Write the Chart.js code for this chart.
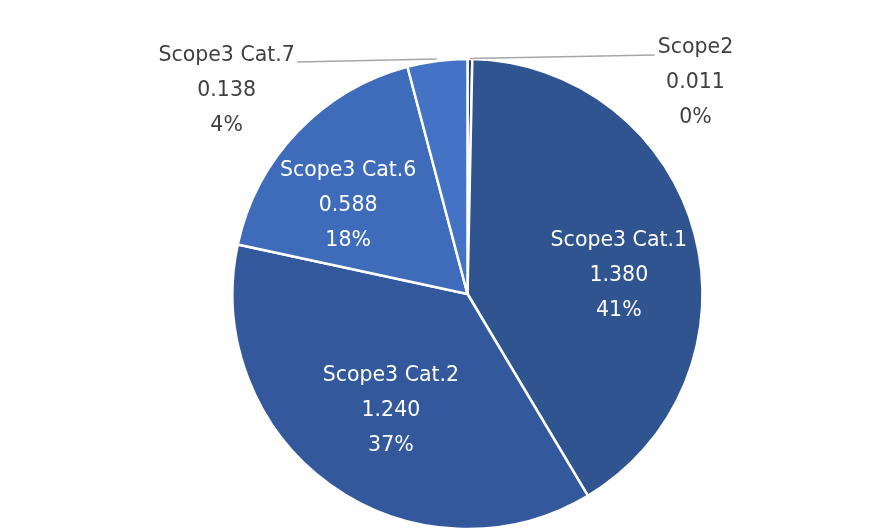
<!DOCTYPE html>
<html>
<head>
<meta charset="utf-8">
<script src="https://cdn.jsdelivr.net/npm/chart.js@4"></script>
<style>
html,body{margin:0;padding:0;background:#fff;}
#wrap{width:880px;height:532px;position:relative;}
</style>
</head>
<body>
<div id="wrap"><canvas id="c" width="880" height="532"></canvas></div>
<script>
const categories = ["Scope2", "Scope3 Cat.1", "Scope3 Cat.2", "Scope3 Cat.6", "Scope3 Cat.7"];
const values = [0.011, 1.380, 1.240, 0.588, 0.138];
const colors = ["#243F70", "#30548F", "#33599C", "#3F6CBA", "#4472C4"];

// label placement (relative to radius) and style, per slice
const labelPos = [
  {dx: 0.970, dy: -0.898, inside: false, leader: [[0.01, -1.002], [0.797, -1.017]]},
  {dx: 0.644, dy: -0.078, inside: true},
  {dx: -0.326, dy: 0.495, inside: true},
  {dx: -0.508, dy: -0.374, inside: true},
  {dx: -1.025, dy: -0.866, inside: false, leader: [[-0.131, -1.000], [-0.725, -0.987]]}
];

const total = values.reduce((a, b) => a + b, 0);

const labelPlugin = {
  id: 'pieLabels',
  afterDatasetsDraw(chart) {
    const ctx = chart.ctx;
    const meta = chart.getDatasetMeta(0);
    const arc0 = meta.data[0];
    const cx = arc0.x, cy = arc0.y, R = arc0.outerRadius;
    ctx.save();
    meta.data.forEach((arc, i) => {
      const p = labelPos[i];
      if (p.leader) {
        ctx.strokeStyle = '#A6A6A6';
        ctx.lineWidth = 1.5;
        ctx.beginPath();
        ctx.moveTo(cx + p.leader[0][0] * R, cy + p.leader[0][1] * R);
        ctx.lineTo(cx + p.leader[1][0] * R, cy + p.leader[1][1] * R);
        ctx.stroke();
      }
      const x = cx + p.dx * R, y = cy + p.dy * R;
      const pct = Math.round(values[i] / total * 100) + '%';
      const lines = [categories[i], values[i].toFixed(3), pct];
      ctx.fillStyle = p.inside ? '#FFFFFF' : '#404040';
      ctx.font = '20.5px "DejaVu Sans"';
      ctx.textAlign = 'center';
      ctx.textBaseline = 'middle';
      const lh = 35;
      lines.forEach((t, k) => ctx.fillText(t, x, y + (k - 1) * lh));
    });
    ctx.restore();
  }
};

new Chart(document.getElementById('c'), {
  type: 'pie',
  data: {
    labels: categories,
    datasets: [{
      data: values,
      backgroundColor: colors,
      borderColor: '#FFFFFF',
      borderWidth: 2.5,
      hoverOffset: 0
    }]
  },
  options: {
    responsive: false,
    animation: false,
    layout: {padding: {top: 56.75, bottom: 0.75, left: 231.25, right: 176.25}},
    plugins: {legend: {display: false}, tooltip: {enabled: false}}
  },
  plugins: [labelPlugin]
});
</script>
</body>
</html>
